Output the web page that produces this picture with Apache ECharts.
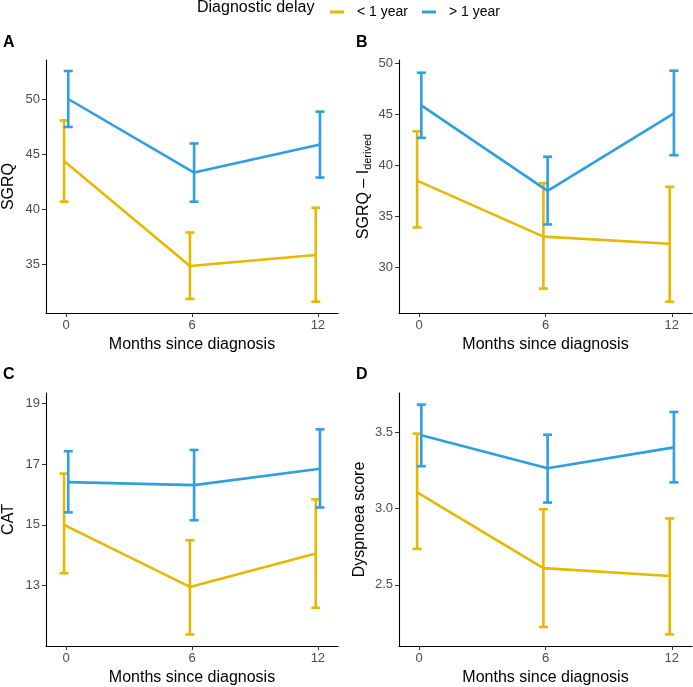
<!DOCTYPE html>
<html>
<head>
<meta charset="utf-8">
<script src="https://cdn.jsdelivr.net/npm/echarts@6/dist/echarts.min.js"></script>
<style>
  html, body { margin: 0; padding: 0; background: #fff; }
  #main { width: 693px; height: 687px; }
</style>
</head>
<body>
<div id="main"></div>
<script>
// months on the x axis
var months = [0, 6, 12];
var groups = ['< 1 year', '> 1 year'];

// A: SGRQ
var sgrqShortMean = [44.4, 34.85, 35.85];
var sgrqShortLo = [40.7, 31.85, 31.6];
var sgrqShortHi = [48.1, 37.9, 40.15];
var sgrqLongMean = [50.05, 43.35, 45.9];
var sgrqLongLo = [47.5, 40.7, 42.9];
var sgrqLongHi = [52.6, 46.0, 48.9];

// B: SGRQ - I derived
var derivShortMean = [38.5, 33.0, 32.3];
var derivShortLo = [33.9, 27.9, 26.6];
var derivShortHi = [43.35, 38.25, 37.9];
var derivLongMean = [45.9, 37.5, 45.1];
var derivLongLo = [42.7, 34.2, 41.0];
var derivLongHi = [49.1, 40.85, 49.3];

// C: CAT
var catShortMean = [15.0, 12.95, 14.05];
var catShortLo = [13.4, 11.38, 12.26];
var catShortHi = [16.69, 14.49, 15.84];
var catLongMean = [16.41, 16.31, 16.85];
var catLongLo = [15.41, 15.15, 15.57];
var catLongHi = [17.43, 17.47, 18.15];

// D: Dyspnoea score
var dysShortMean = [3.106, 2.61, 2.558];
var dysShortLo = [2.736, 2.224, 2.176];
var dysShortHi = [3.49, 2.995, 2.935];
var dysLongMean = [3.479, 3.263, 3.40];
var dysLongLo = [3.277, 3.039, 3.171];
var dysLongHi = [3.68, 3.483, 3.632];

// tick labels
var sgrqTicks = [35, 40, 45, 50];
var derivTicks = [30, 35, 40, 45, 50];
var catTicks = [13, 15, 17, 19];
var dysTicks = [2.5, 3.0, 3.5];

var FONT = '"Liberation Sans", Arial, sans-serif';
var YELLOW = '#E7B800';
var BLUE = '#2E9FDF';
var DODGE = 0.1;

var panels = [
  {grid: {left: 42, top: 60, width: 296, height: 253}, yMin: 30.57, yMax: 53.6, ticks: sgrqTicks, dec: 0,
   name: 'SGRQ', gap: 29,
   s: [sgrqShortMean, sgrqShortLo, sgrqShortHi], l: [sgrqLongMean, sgrqLongLo, sgrqLongHi]},
  {grid: {left: 399, top: 60, width: 293, height: 253}, yMin: 25.5, yMax: 50.35, ticks: derivTicks, dec: 0,
   name: '{a|SGRQ – I}{s|derived}', gap: 26,
   s: [derivShortMean, derivShortLo, derivShortHi], l: [derivLongMean, derivLongLo, derivLongHi]},
  {grid: {left: 42, top: 393, width: 296, height: 255}, yMin: 11.0, yMax: 19.35, ticks: catTicks, dec: 0,
   name: 'CAT', gap: 29,
   s: [catShortMean, catShortLo, catShortHi], l: [catLongMean, catLongLo, catLongHi]},
  {grid: {left: 399, top: 393, width: 293, height: 255}, yMin: 2.10, yMax: 3.756, ticks: dysTicks, dec: 1,
   name: 'Dyspnoea score', gap: 31,
   s: [dysShortMean, dysShortLo, dysShortHi], l: [dysLongMean, dysLongLo, dysLongHi]}
];

function errorBarItem(params, api) {
  var x = api.value(0);
  var top = api.coord([x, api.value(2)]);
  var bot = api.coord([x, api.value(1)]);
  var hw = 4.5;
  var style = {stroke: api.visual('color'), lineWidth: 2.6};
  return {
    type: 'group',
    children: [
      {type: 'line', shape: {x1: top[0], y1: top[1], x2: bot[0], y2: bot[1]}, style: style},
      {type: 'line', shape: {x1: top[0] - hw, y1: top[1], x2: top[0] + hw, y2: top[1]}, style: style},
      {type: 'line', shape: {x1: bot[0] - hw, y1: bot[1], x2: bot[0] + hw, y2: bot[1]}, style: style}
    ]
  };
}

var grids = [], xAxes = [], yAxes = [], series = [];

panels.forEach(function (p, i) {
  grids.push(Object.assign({containLabel: false}, p.grid));
  xAxes.push({
    type: 'value', gridIndex: i, min: -0.96, max: 12.96,
    name: 'Months since diagnosis', nameLocation: 'middle', nameGap: 24,
    nameTextStyle: {fontFamily: FONT, fontSize: 16, color: '#000'},
    axisLine: {onZero: false, lineStyle: {color: '#000', width: 1.1}},
    axisTick: {customValues: months, length: 4, lineStyle: {color: '#333'}},
    axisLabel: {customValues: months, fontFamily: FONT, fontSize: 13, color: '#4D4D4D', margin: 6},
    splitLine: {show: false}
  });
  yAxes.push({
    type: 'value', gridIndex: i, min: p.yMin, max: p.yMax,
    name: p.name, nameLocation: 'middle', nameGap: p.gap, nameRotate: 90,
    nameTextStyle: {fontFamily: FONT, fontSize: 16, color: '#000',
      rich: {a: {fontFamily: FONT, fontSize: 16, color: '#000'},
             s: {fontFamily: FONT, fontSize: 11, color: '#000', padding: [8, 0, 0, 0]}}},
    axisLine: {show: true, onZero: false, lineStyle: {color: '#000', width: 1.1}},
    axisTick: {show: true, customValues: p.ticks, length: 4, lineStyle: {color: '#333'}},
    axisLabel: {customValues: p.ticks, fontFamily: FONT, fontSize: 13, color: '#4D4D4D', margin: 6,
      formatter: function (v) { return Number(v).toFixed(p.dec); }},
    splitLine: {show: false}
  });
  [[p.s, YELLOW, -DODGE, groups[0]], [p.l, BLUE, DODGE, groups[1]]].forEach(function (g) {
    var vals = g[0];
    series.push({
      type: 'line', name: g[3], xAxisIndex: i, yAxisIndex: i,
      data: months.map(function (m, k) { return [m + g[2], vals[0][k]]; }),
      symbol: 'none', color: g[1], lineStyle: {width: 2.6, color: g[1]}, silent: true
    });
    series.push({
      type: 'custom', name: g[3], xAxisIndex: i, yAxisIndex: i,
      data: months.map(function (m, k) { return [m + g[2], vals[1][k], vals[2][k]]; }),
      renderItem: errorBarItem, color: g[1], silent: true,
      encode: {x: 0, y: [1, 2]}
    });
  });
});

var chart = echarts.init(document.getElementById('main'), null, {renderer: 'canvas'});
chart.setOption({
  animation: false,
  backgroundColor: '#fff',
  textStyle: {fontFamily: FONT},
  grid: grids,
  xAxis: xAxes,
  yAxis: yAxes,
  series: series,
  legend: {
    data: groups, left: 325, top: 0,
    icon: 'rect', itemWidth: 14, itemHeight: 3, itemGap: 14,
    textStyle: {fontFamily: FONT, fontSize: 14, color: '#000', padding: [0, 0, 0, 8]}
  },
  graphic: [
    {type: 'text', left: 197, top: 0, style: {text: 'Diagnostic delay', font: '16px ' + FONT, fill: '#000'}},
    {type: 'text', left: 3, top: 35, style: {text: 'A', font: 'bold 16px ' + FONT, fill: '#000'}},
    {type: 'text', left: 356, top: 35, style: {text: 'B', font: 'bold 16px ' + FONT, fill: '#000'}},
    {type: 'text', left: 3, top: 367, style: {text: 'C', font: 'bold 16px ' + FONT, fill: '#000'}},
    {type: 'text', left: 356, top: 367, style: {text: 'D', font: 'bold 16px ' + FONT, fill: '#000'}}
  ]
});
</script>
</body>
</html>
